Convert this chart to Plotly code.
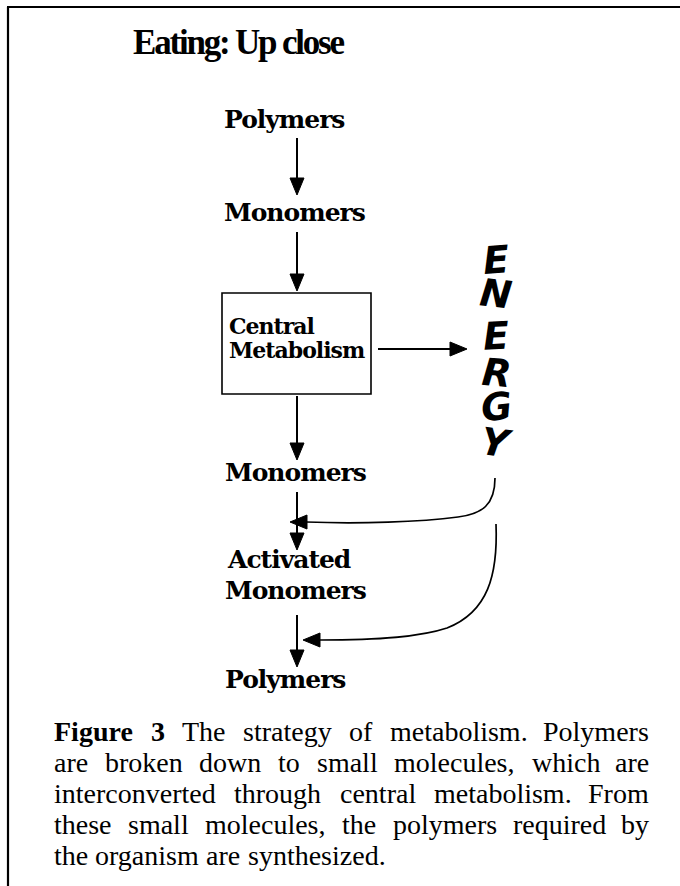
import plotly.graph_objects as go

# ---------------- content ----------------
title_text = "Eating: Up close"
flow_labels = ["Polymers", "Monomers", "Central", "Metabolism",
               "Monomers", "Activated", "Monomers", "Polymers"]
energy_letters = ["E", "N", "E", "R", "G", "Y"]
caption_bold = ["Figure", "3"]
caption_lines = [
    "Figure 3 The strategy of metabolism. Polymers",
    "are broken down to small molecules, which are",
    "interconverted through central metabolism. From",
    "these small molecules, the polymers required by",
    "the organism are synthesized.",
]

# ---------------- layout (pixel coordinates) ----------------
W, H = 680, 886
BLACK = "#000000"
SERIF = "Liberation Serif"
LABEL_FONT = "DejaVu Serif"

label_x = [223, 223, 228, 228, 224, 226, 224, 224]
label_base = [128, 221, 334, 358, 481, 568, 599, 688]
label_size = [25, 25, 22, 22, 25, 25, 25, 25]
label_ls = [-1.0, -1.0, -1.0, -1.0, -1.0, -1.0, -1.0, -1.0]

arrow_x = 297
v_arrows = [(138, 195), (232, 291), (396, 460), (492, 550), (615, 667)]
h_arrow = (378, 467, 349)
box = (222, 293, 371, 394)

energy_x = 496
energy_cy = [260, 294, 336, 373, 407, 443]
energy_rot = [-4, 6, -3, 5, -6, 8]

curve_paths = [
    ("M 495,478 C 495,505 482,514 458,517 C 420,522 360,524 306,522", (290, 522)),
    ("M 496,524 C 498,575 488,612 447,628 C 420,637 380,640 320,640", (303, 640)),
]

cap_x0, cap_x1 = 53, 650
cap_size = 28
cap_base0, cap_step = 741, 31

# Times / Liberation Serif advance widths (per 1000 em)
REG = dict(a=444, b=500, c=444, d=500, e=444, f=333, g=500, h=500, i=278, j=278,
           k=500, l=278, m=778, n=500, o=500, p=500, q=500, r=333, s=389, t=278,
           u=500, v=500, w=722, x=500, y=500, z=444, T=611, P=556, F=556)
REG.update({",": 250, ".": 250, " ": 250})
BOLD = dict(F=611, i=278, g=500, u=556, r=444, e=444)
BOLD.update({"3": 500, " ": 250})


def word_w(word, bold):
    tbl = BOLD if bold else REG
    return sum(tbl.get(ch, 500) for ch in word) / 1000.0 * cap_size


fig = go.Figure()
shapes = []
annotations = []

# frame
shapes.append(dict(type="line", x0=7, y0=7, x1=W, y1=7, line=dict(color=BLACK, width=2.2)))
shapes.append(dict(type="line", x0=8, y0=7, x1=8, y1=H, line=dict(color=BLACK, width=2.2)))

# title
annotations.append(dict(x=238, y=54 - 0.34 * 35,
                        text="<span style='letter-spacing:-2.2px'>%s</span>" % title_text,
                        font=dict(family=SERIF, size=35, color=BLACK, weight="bold"),
                        xanchor="center", yanchor="middle"))

# flow labels
for lab, lx, lb, ls, sp in zip(flow_labels, label_x, label_base, label_size, label_ls):
    annotations.append(dict(x=lx, y=lb - 0.35 * ls,
                            text="<b><span style='letter-spacing:%gpx'>%s</span></b>" % (sp, lab),
                            font=dict(family=LABEL_FONT, size=ls, color=BLACK),
                            xanchor="left", yanchor="middle"))

# box
shapes.append(dict(type="rect", x0=box[0], y0=box[1], x1=box[2], y1=box[3],
                   line=dict(color=BLACK, width=1.6)))

HL, HW = 17, 7


def head_down(x, ytip):
    return "M %g,%g L %g,%g L %g,%g Z" % (x, ytip, x - HW, ytip - HL, x + HW, ytip - HL)


def head_right(xtip, y):
    return "M %g,%g L %g,%g L %g,%g Z" % (xtip, y, xtip - HL, y - HW, xtip - HL, y + HW)


def head_left(xtip, y):
    return "M %g,%g L %g,%g L %g,%g Z" % (xtip, y, xtip + HL, y - HW, xtip + HL, y + HW)


for (y0, y1) in v_arrows:
    shapes.append(dict(type="line", x0=arrow_x, y0=y0, x1=arrow_x, y1=y1 - HL + 2,
                       line=dict(color=BLACK, width=2)))
    shapes.append(dict(type="path", path=head_down(arrow_x, y1), fillcolor=BLACK,
                       line=dict(color=BLACK, width=1)))

hx0, hx1, hy = h_arrow
shapes.append(dict(type="line", x0=hx0, y0=hy, x1=hx1 - HL + 2, y1=hy, line=dict(color=BLACK, width=2)))
shapes.append(dict(type="path", path=head_right(hx1, hy), fillcolor=BLACK, line=dict(color=BLACK, width=1)))

for path, (tx, ty) in curve_paths:
    shapes.append(dict(type="path", path=path, line=dict(color=BLACK, width=1.7)))
    shapes.append(dict(type="path", path=head_left(tx, ty), fillcolor=BLACK,
                       line=dict(color=BLACK, width=1)))

# ENERGY letters
for letter, cy, rot in zip(energy_letters, energy_cy, energy_rot):
    annotations.append(dict(x=energy_x, y=cy, text="<b><i>%s</i></b>" % letter,
                            font=dict(family="DejaVu Sans", size=38, color=BLACK),
                            textangle=rot, xanchor="center", yanchor="middle"))

# caption, justified word by word
for li, line in enumerate(caption_lines):
    words = line.split(" ")
    bolds = [(li == 0 and wi < 2 and w in caption_bold) for wi, w in enumerate(words)]
    widths = [word_w(w, b) for w, b in zip(words, bolds)]
    justify = li < len(caption_lines) - 1
    if justify:
        gap = (cap_x1 - cap_x0 - sum(widths)) / (len(words) - 1)
    else:
        gap = 0.25 * cap_size
    base = cap_base0 + li * cap_step
    x = cap_x0
    for wi, (w, b, ww) in enumerate(zip(words, bolds, widths)):
        txt = "<b>%s</b>" % w if b else w
        last = justify and wi == len(words) - 1
        annotations.append(dict(x=cap_x1 if last else x, y=base - 0.34 * cap_size, text=txt,
                                font=dict(family=SERIF, size=cap_size, color=BLACK),
                                xanchor="right" if last else "left", yanchor="middle"))
        x += ww + gap

for a in annotations:
    a.update(xref="x", yref="y", showarrow=False, borderpad=0)
for s in shapes:
    s.update(xref="x", yref="y", layer="above")

fig.update_layout(
    width=W, height=H, margin=dict(l=0, r=0, t=0, b=0),
    paper_bgcolor="white", plot_bgcolor="white",
    xaxis=dict(range=[0, W], visible=False, fixedrange=True),
    yaxis=dict(range=[H, 0], visible=False, fixedrange=True),
    shapes=shapes, annotations=annotations, showlegend=False,
)

fig.write_html("out.html", config={"displayModeBar": False, "staticPlot": True},
               post_script="document.body.style.margin='0px';")
